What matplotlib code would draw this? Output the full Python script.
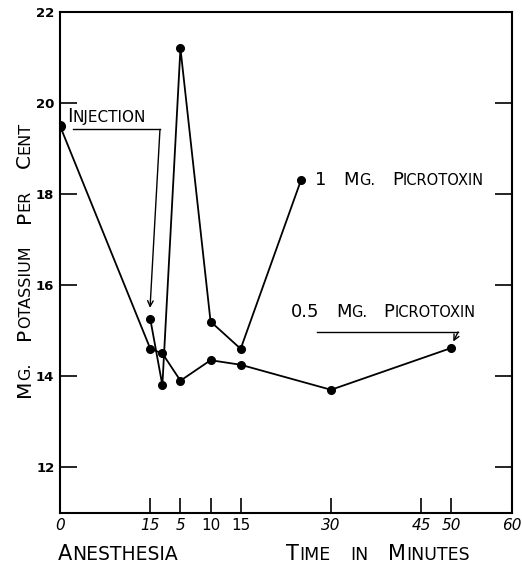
import matplotlib
matplotlib.use('Agg')
import matplotlib.pyplot as plt
from matplotlib.transforms import offset_copy

# time axis = minutes from start of anesthesia (injection at 15)
half_t = [0, 15, 17, 20, 25, 30, 45, 65]
half_k = [19.5, 14.6, 14.5, 13.9, 14.35, 14.25, 13.7, 14.62]

one_t = [15, 17, 20, 25, 30, 40]
one_k = [15.25, 13.8, 21.2, 15.2, 14.6, 18.3]

x_ticks = [0, 15, 20, 25, 30, 45, 60, 65, 75]
x_labels = ['0', '15', '5', '10', '15', '30', '45', '50', '60']
y_ticks = [12, 14, 16, 18, 20, 22]

FONT = 'DejaVu Sans'


def caps_text(fig, x, y, text, big, small, gap, transform, rotation=0):
    """Draw text in small caps: big first letters, small upper-case rest."""
    r = fig.canvas.get_renderer()
    words = text.split()
    pieces = []
    for i, w in enumerate(words):
        if w[0].isdigit():
            parts = [(w, big)]
        elif w[0].isupper():
            parts = [(w[0], big), (w[1:].upper(), small)]
        else:
            parts = [(w.upper(), small)]
        for j, (s, sz) in enumerate(parts):
            if s:
                pieces.append((s, sz, i > 0 and j == 0))
    off = 0.0
    for s, sz, new_word in pieces:
        if new_word:
            off += gap
        dx, dy = (off, 0) if rotation == 0 else (0, off)
        tr = offset_copy(transform, fig=fig, x=dx, y=dy, units='dots')
        t = fig.text(x, y, s, fontsize=sz, family=FONT, transform=tr,
                     ha='left', va='baseline', rotation=rotation,
                     rotation_mode='anchor')
        bb = t.get_window_extent(r)
        off += bb.width if rotation == 0 else bb.height


fig = plt.figure(figsize=(5.22, 5.67), dpi=100)
ax = fig.add_axes([0.1149, 0.0958, 0.8654, 0.883])

ax.plot(half_t, half_k, color='black', lw=1.3, marker='o', ms=5.5, zorder=3)
ax.plot(one_t, one_k, color='black', lw=1.3, marker='o', ms=5.5, zorder=3)
ax.plot(half_t[:1], half_k[:1], 'o', color='black', ms=7, zorder=4)

ax.set_xlim(0, 75)
ax.set_ylim(11, 22)
ax.set_xticks(x_ticks)
ax.set_xticklabels(x_labels, fontsize=11, family=FONT)
for i, lab in enumerate(ax.get_xticklabels()):
    if i not in (3, 4):
        lab.set_style('italic')
ax.set_yticks(y_ticks)
ax.set_yticklabels([str(v) for v in y_ticks], fontsize=9.5, family=FONT,
                   fontweight='bold')
ax.tick_params(axis='x', direction='in', length=11, width=1.2, pad=4)
ax.tick_params(axis='y', direction='in', length=12, width=1.2, pad=4,
               right=True)
for sp in ax.spines.values():
    sp.set_linewidth(1.5)

# injection marker
ax.plot([2.2, 16.6], [19.42, 19.42], color='black', lw=1.0)
ax.annotate('', xy=(14.95, 15.5), xytext=(16.6, 19.42),
            arrowprops=dict(arrowstyle='->', color='black', lw=1.0,
                            shrinkA=0, shrinkB=0))
# 0.5 mg marker
ax.plot([42.7, 66.1], [14.97, 14.97], color='black', lw=1.0)
ax.annotate('', xy=(65.3, 14.76), xytext=(66.1, 14.97),
            arrowprops=dict(arrowstyle='->', color='black', lw=1.0,
                            shrinkA=0, shrinkB=0))

fig.canvas.draw()
caps_text(fig, 1.2, 19.58, 'Injection', 13.5, 11, 8, ax.transData)
caps_text(fig, 42.3, 18.19, '1 Mg. Picrotoxin', 13, 10.5, 17, ax.transData)
caps_text(fig, 38.4, 15.29, '0.5 Mg. Picrotoxin', 13, 10.5, 16, ax.transData)

caps_text(fig, 0.057, 0.30, 'Mg. Potassium Per Cent', 14.5, 11.5, 22,
          fig.transFigure, rotation=90)
caps_text(fig, 0.111, 0.0123, 'Anesthesia', 15, 13.5, 20, fig.transFigure)
caps_text(fig, 0.548, 0.0123, 'Time in Minutes', 15, 12.5, 20,
          fig.transFigure)

fig.savefig('out.png', dpi=100)
